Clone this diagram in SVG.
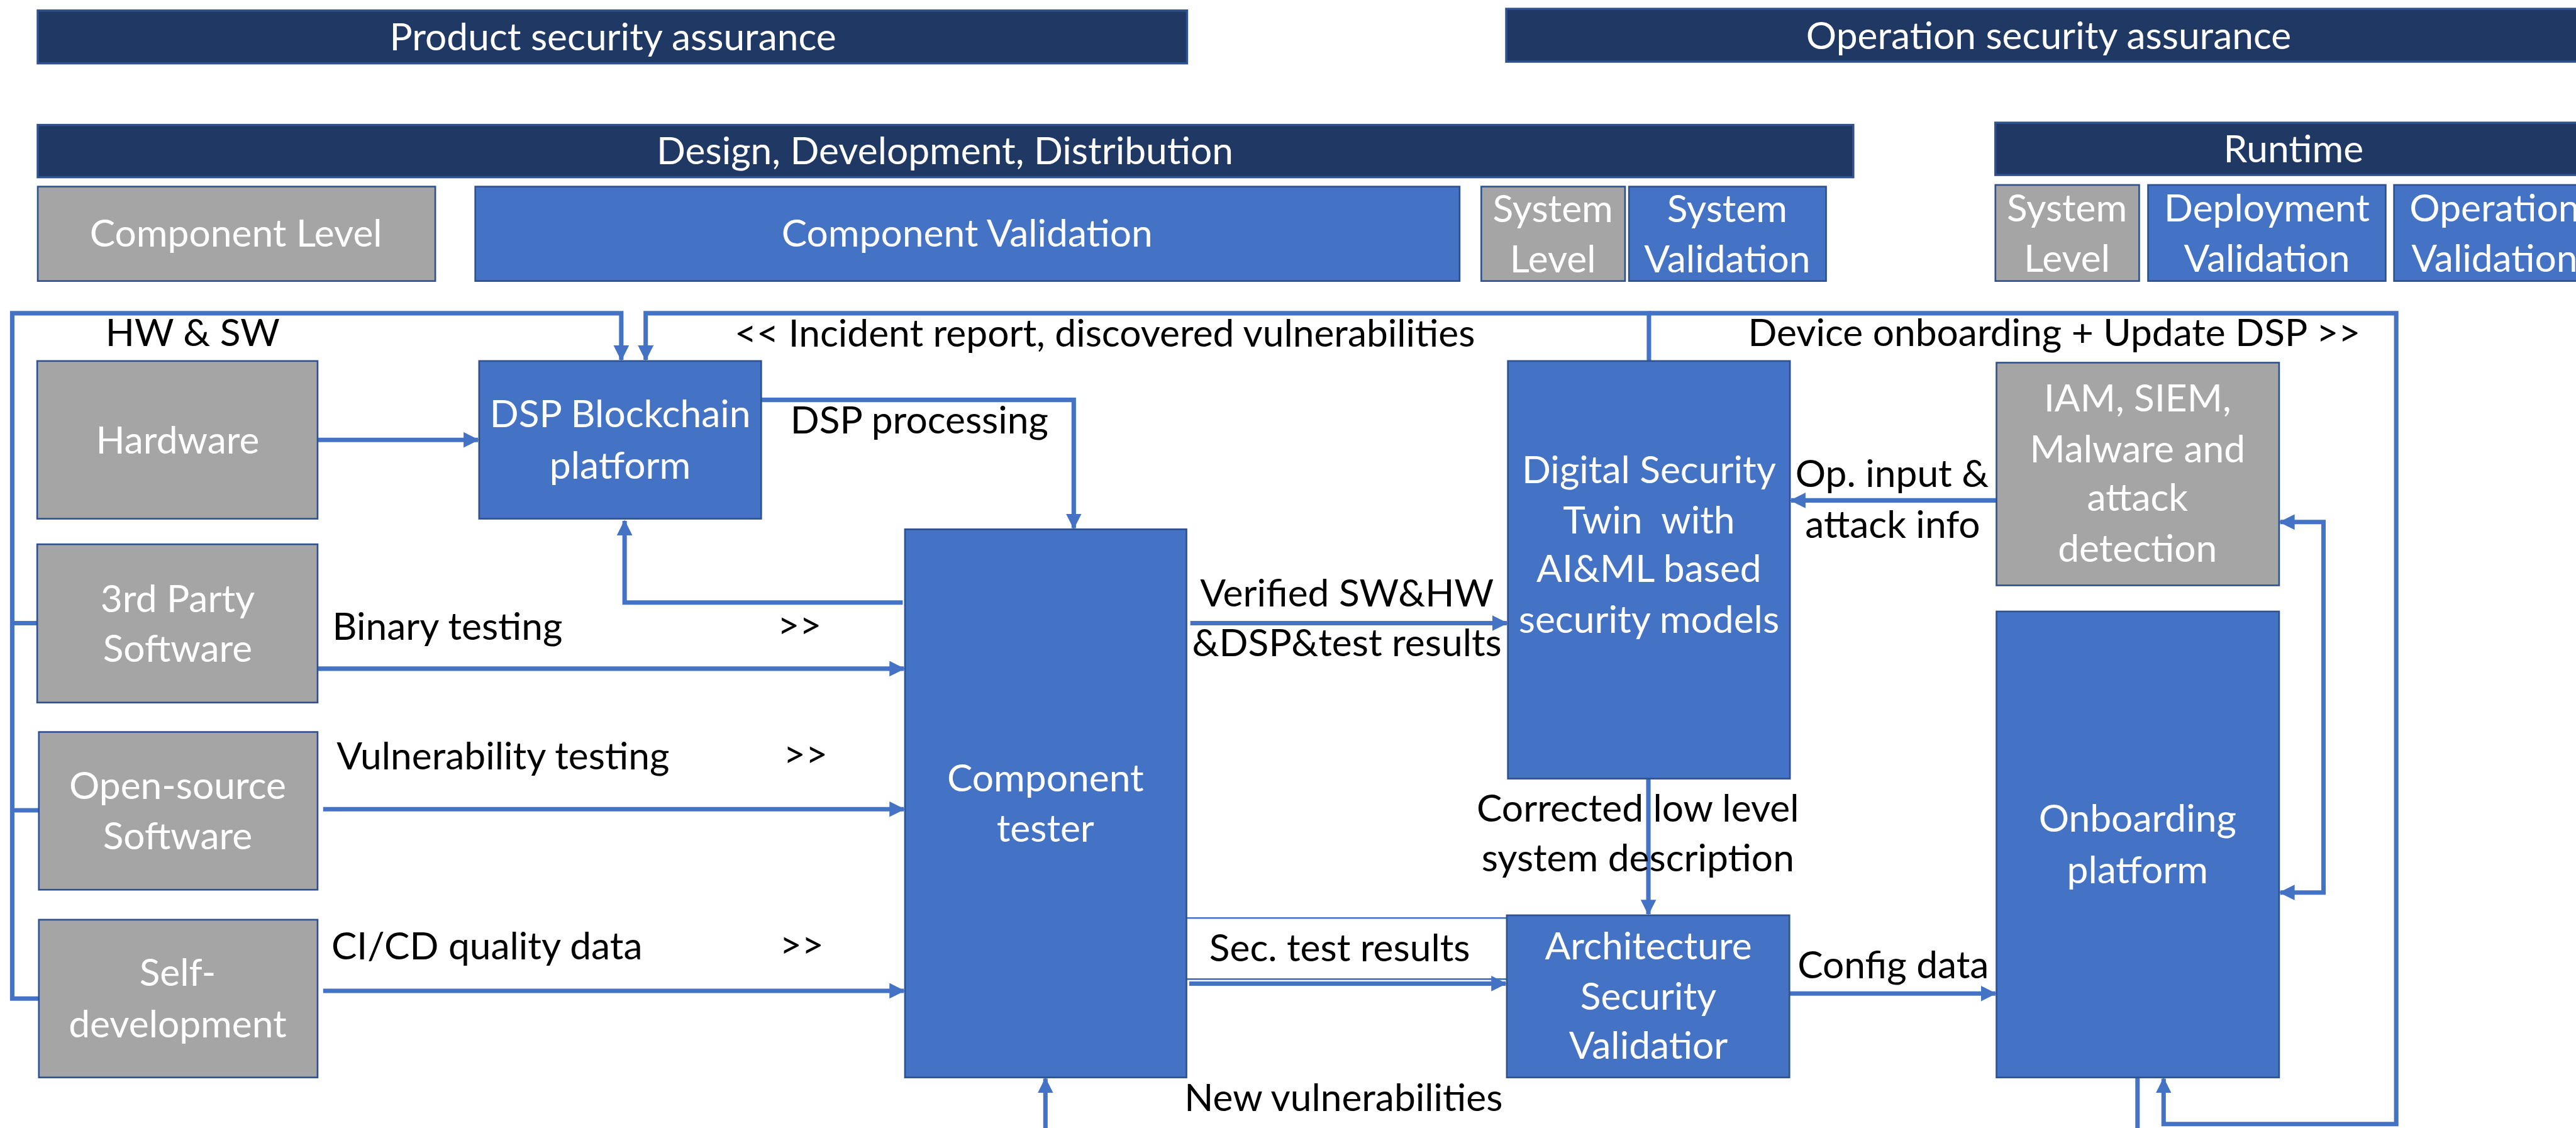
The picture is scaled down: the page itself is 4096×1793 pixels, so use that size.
<svg xmlns="http://www.w3.org/2000/svg" width="4096" height="1793" viewBox="0 0 4096 1793">
<style>
.bar{fill:#203864;stroke:#2F528F;stroke-width:4}
.blue{fill:#4472C4;stroke:#2F528F;stroke-width:3}
.grey{fill:#A5A5A5;stroke:#2F528F;stroke-width:3}
text{font-family:Lato,"Liberation Sans",sans-serif;font-size:68.5px}
.w{fill:#FFFFFF;text-anchor:middle}
.k{fill:#000000;text-anchor:middle}
.c{fill:none;stroke:#4472C4;stroke-width:8}
.thin{fill:none;stroke:#4472C4;stroke-width:3}
</style>
<defs>
<marker id="ah" markerUnits="userSpaceOnUse" viewBox="0 0 28 28" markerWidth="28" markerHeight="28" refX="26" refY="14" orient="auto-start-reverse">
<path d="M0,0 L28,14 L0,28 z" fill="#4472C4"/>
</marker>
</defs>
<rect width="4096" height="1793" fill="#FFFFFF"/>
<g transform="scale(0.8828)">
<g id="header">
<g id="product-sa"><rect class="bar" x="68" y="19" width="2070" height="95"/><text class="w" x="1104" y="91">Product security assurance</text></g>
<g id="operation-sa"><rect class="bar" x="2713" y="16" width="1960" height="95"/><text class="w" x="3690" y="88">Operation security assurance</text></g>
<g id="design"><rect class="bar" x="68" y="225" width="3270" height="94"/><text class="w" x="1702" y="296">Design, Development, Distribution</text></g>
<g id="runtime"><rect class="bar" x="3594" y="221" width="1080" height="94"/><text class="w" x="4131" y="292">Runtime</text></g>
<g id="component-level"><rect class="grey" x="68" y="336" width="716" height="170"/><text class="w" x="425" y="444">Component Level</text></g>
<g id="component-validation"><rect class="blue" x="856" y="336" width="1773" height="170"/><text class="w" x="1742" y="444">Component Validation</text></g>
<g id="system-level-1"><rect class="grey" x="2668" y="336" width="259" height="170"/><text class="w" x="2797" y="400">System</text><text class="w" x="2797" y="490">Level</text></g>
<g id="system-validation"><rect class="blue" x="2934" y="336" width="355" height="170"/><text class="w" x="3111" y="400">System</text><text class="w" x="3111" y="490">Validation</text></g>
<g id="system-level-2"><rect class="grey" x="3594" y="333" width="259" height="173"/><text class="w" x="3723" y="399">System</text><text class="w" x="3723" y="489">Level</text></g>
<g id="deployment-validation"><rect class="blue" x="3869" y="333" width="428" height="173"/><text class="w" x="4083" y="399">Deployment</text><text class="w" x="4083" y="489">Validation</text></g>
<g id="operation-validation"><rect class="blue" x="4312" y="333" width="362" height="173"/><text class="w" x="4493" y="399">Operation</text><text class="w" x="4493" y="489">Validation</text></g>
</g>
<g id="connectors">
<path class="c" d="M67,1122 H22 M70,1459 H22"/>
<path class="c" d="M70,1798 H22 V564 H1119 V648" marker-end="url(#ah)"/>
<path class="c" d="M2970,650 V564 H1163 V648" marker-end="url(#ah)"/>
<path class="c" d="M2970,564 H4316 V2024 H3897 V1942" marker-end="url(#ah)"/>
<path class="c" d="M572,792 H861" marker-end="url(#ah)"/>
<path class="c" d="M1371,720 H1934 V951" marker-end="url(#ah)"/>
<path class="c" d="M1626,1085 H1125 V938" marker-end="url(#ah)"/>
<path class="c" d="M572,1204 H1628" marker-end="url(#ah)"/>
<path class="c" d="M582,1457 H1628" marker-end="url(#ah)"/>
<path class="c" d="M582,1784 H1628" marker-end="url(#ah)"/>
<path class="c" d="M2144,1122 H2714" marker-end="url(#ah)"/>
<path class="c" d="M3596,901 H3226" marker-end="url(#ah)"/>
<path class="c" d="M4107,940 H4185 V1607 H4107" marker-start="url(#ah)" marker-end="url(#ah)"/>
<path class="c" d="M2969,1402 V1646" marker-end="url(#ah)"/>
<path class="thin" d="M2137,1653 H2714 M2137,1763 H2714"/>
<path class="c" d="M2142,1771 H2712" marker-end="url(#ah)"/>
<path class="c" d="M3223,1789 H3594" marker-end="url(#ah)"/>
<path class="c" d="M1883,2035 V1942" marker-end="url(#ah)"/>
<path class="c" d="M3850,1940 V2035"/>
</g>
<g id="hardware"><rect class="grey" x="67" y="650" width="505" height="284"/><text class="w" x="320" y="817">Hardware</text></g>
<g id="dsp-blockchain"><rect class="blue" x="863" y="650" width="508" height="284"/><text class="w" x="1117" y="769">DSP Blockchain</text><text class="w" x="1117" y="862">platform</text></g>
<g id="third-party"><rect class="grey" x="67" y="980" width="505" height="285"/><text class="w" x="320" y="1102">3rd Party</text><text class="w" x="320" y="1192">Software</text></g>
<g id="open-source"><rect class="grey" x="70" y="1318" width="502" height="284"/><text class="w" x="320" y="1439">Open-source</text><text class="w" x="320" y="1529">Software</text></g>
<g id="self-development"><rect class="grey" x="70" y="1656" width="502" height="284"/><text class="w" x="320" y="1775">Self-</text><text class="w" x="320" y="1868">development</text></g>
<g id="component-tester"><rect class="blue" x="1630" y="953" width="507" height="987"/><text class="w" x="1883" y="1425">Component</text><text class="w" x="1883" y="1516">tester</text></g>
<g id="digital-security-twin"><rect class="blue" x="2716" y="650" width="508" height="752"/><text class="w" x="2970" y="870">Digital Security</text><text class="w" x="2970" y="961" xml:space="preserve">Twin  with</text><text class="w" x="2970" y="1048">AI&amp;ML based</text><text class="w" x="2970" y="1139">security models</text></g>
<g id="iam-siem"><rect class="grey" x="3596" y="653" width="509" height="401"/><text class="w" x="3850" y="741">IAM, SIEM,</text><text class="w" x="3850" y="833">Malware and</text><text class="w" x="3850" y="920">attack</text><text class="w" x="3850" y="1011">detection</text></g>
<g id="onboarding-platform"><rect class="blue" x="3596" y="1101" width="509" height="839"/><text class="w" x="3850" y="1497">Onboarding</text><text class="w" x="3850" y="1590">platform</text></g>
<g id="architecture-validator"><rect class="blue" x="2714" y="1648" width="509" height="292"/><text class="w" x="2969" y="1728">Architecture</text><text class="w" x="2969" y="1818">Security</text><text class="w" x="2969" y="1906">Validatior</text></g>
<g id="labels">
<text class="k" x="347" y="623">HW &amp; SW</text>
<text class="k" x="1990" y="624">&lt;&lt; Incident report, discovered vulnerabilities</text>
<text class="k" x="1656" y="781">DSP processing</text>
<text class="k" x="806" y="1152">Binary testing</text>
<text class="k" x="1440" y="1150">&gt;&gt;</text>
<text class="k" x="906" y="1385">Vulnerability testing</text>
<text class="k" x="1451" y="1382">&gt;&gt;</text>
<text class="k" x="877" y="1728">CI/CD quality data</text>
<text class="k" x="1444" y="1725">&gt;&gt;</text>
<text class="k" x="2426" y="1092">Verified SW&amp;HW</text>
<text class="k" x="2426" y="1182">&amp;DSP&amp;test results</text>
<text class="k" x="3700" y="623">Device onboarding + Update DSP &gt;&gt;</text>
<text class="k" x="3408" y="877">Op. input &amp;</text>
<text class="k" x="3409" y="969">attack info</text>
<text class="k" x="2950" y="1479">Corrected low level</text>
<text class="k" x="2950" y="1569">system description</text>
<text class="k" x="2413" y="1731">Sec. test results</text>
<text class="k" x="3410" y="1762">Config data</text>
<text class="k" x="2420" y="2000">New vulnerabilities</text>
</g>
</g>
</svg>
